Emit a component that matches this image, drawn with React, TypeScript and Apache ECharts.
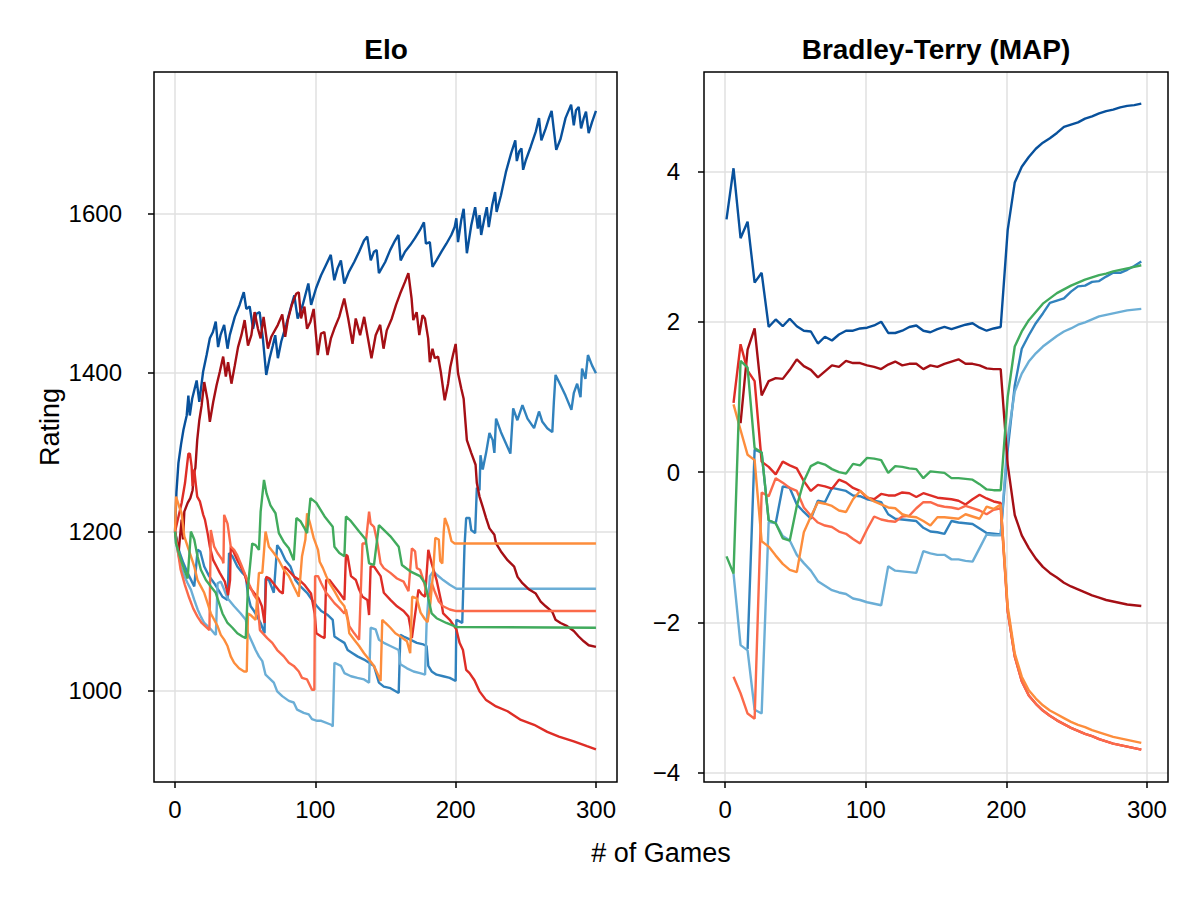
import React, { useEffect, useRef } from "react";
import * as echarts from "echarts";

// ---------------- Elo panel: [game, rating] ----------------
const ELO_DARK_BLUE: number[][] = [
  [0,1200],[1,1250],[2.4,1286],[4.3,1310],[6,1328],[8.3,1346],[9.5,1371],[10.5,1346],[12.2,1367],[15.4,1390],[17.3,1363],[20,1401],[22.5,1422],[24.8,1443],[27,1451],[29,1464],[30.7,1432],[32.4,1447],[35,1460],[37.4,1430],[39,1447],[42.6,1470],[46,1485],[49,1501],[50.8,1480],[53.2,1483],[55.6,1455],[58,1474],[60.3,1476],[62.6,1443],[65,1397],[67.4,1418],[69.7,1434],[71.4,1447],[73.3,1418],[75.7,1439],[79.2,1460],[82.7,1483],[85,1497],[87.4,1468],[91,1485],[95,1512],[97,1485],[100.5,1506],[104,1522],[107.5,1535],[111,1548],[113.5,1516],[115.8,1531],[118.2,1541],[120.6,1512],[124,1527],[127.7,1539],[131.2,1552],[134.7,1566],[137,1571],[139.5,1541],[141.8,1552],[143.7,1554],[145.3,1525],[149.8,1539],[153.3,1554],[156.8,1566],[159.2,1573],[160.8,1541],[163.9,1552],[167.5,1560],[171,1569],[174.5,1579],[177.4,1589],[178.8,1562],[181.6,1564],[183.5,1533],[186.3,1541],[189.9,1552],[193.4,1562],[196.9,1573],[199.3,1583],[200.5,1594],[201.7,1564],[204,1592],[205.7,1606],[208,1550],[211.1,1585],[213.9,1608],[215.8,1581],[217,1598],[218.2,1573],[220.5,1594],[222.2,1608],[223.6,1583],[226,1610],[228.1,1627],[229.2,1602],[232.3,1623],[235.8,1652],[239.4,1675],[242.5,1692],[243.6,1666],[245.3,1678],[246.9,1682],[248.1,1655],[250,1667],[253.5,1684],[257.1,1703],[259.4,1720],[261.1,1692],[264.2,1707],[266.5,1720],[268.4,1729],[270,1705],[271.7,1680],[274.8,1694],[278.3,1720],[282.3,1737],[284.2,1711],[285.8,1730],[287.7,1734],[289.4,1707],[291.3,1720],[292.9,1728],[294.8,1701],[297.2,1715],[300,1729]
];
const ELO_MED_BLUE: number[][] = [
  [0,1200],[3,1175],[6,1160],[9,1148],[12,1137],[13.7,1131],[16.1,1177],[18,1175],[20.8,1156],[24.3,1144],[27.9,1135],[31.4,1125],[33.8,1118],[37.4,1114],[38.5,1173],[40.9,1169],[44.4,1156],[48,1148],[50.4,1144],[52,1120],[53.9,1106],[56.3,1100],[58.6,1093],[61,1085],[63.8,1072],[64.5,1141],[66.9,1139],[70.4,1123],[72.8,1183],[75.2,1177],[78.7,1164],[82.3,1156],[85.8,1139],[89.4,1131],[94.1,1123],[97.6,1114],[101.2,1106],[104.2,1100],[108.9,1095],[112.4,1089],[113.6,1068],[117.1,1064],[120.7,1060],[123,1051],[126.5,1047],[130,1043],[134.7,1039],[138.3,1035],[141.8,1031],[145.3,1010],[148.8,1005],[153.5,1003],[159.4,997],[160.6,1070],[162.9,1068],[167.6,1064],[172.3,1060],[177,1058],[179.3,1056],[180.5,1031],[182.9,1024],[186.4,1020],[191.1,1018],[195.8,1016],[200,1012],[200.5,1089],[202.8,1087],[204.7,1085],[206.3,1181],[207.5,1217],[209.9,1217],[211.1,1202],[213.9,1198],[215.1,1255],[217,1252],[217.7,1296],[219.3,1278],[221.7,1299],[224.1,1324],[226.4,1315],[227.6,1299],[228.8,1342],[232.3,1325],[236,1310],[239,1298],[241,1355],[244,1340],[247.6,1359],[251.2,1342],[255.9,1330],[259.4,1351],[261.8,1338],[265.3,1330],[268.9,1325],[270,1363],[271.2,1397],[274.8,1384],[278.3,1371],[282.5,1353],[284.2,1374],[286.6,1386],[289,1369],[290.1,1405],[292.5,1392],[294.3,1422],[297.2,1409],[300,1399]
];
const ELO_LIGHT_BLUE: number[][] = [
  [0,1200],[0.7,1185],[4.3,1156],[6.6,1144],[9,1135],[11.3,1127],[13.7,1114],[16.1,1102],[18.4,1093],[20.8,1085],[23.2,1081],[25.5,1077],[27.9,1072],[29.1,1070],[30.3,1135],[32.6,1137],[35,1127],[37.4,1116],[42.1,1106],[46.8,1097],[50.4,1089],[52,1072],[55.1,1060],[57.4,1051],[59.8,1043],[62.2,1037],[64.5,1020],[66.9,1016],[70.4,1010],[72.8,999],[76.4,993],[81.1,987],[84.6,985],[87,976],[91.7,972],[95.3,970],[97.6,964],[101.2,962],[104.2,962],[111.3,957],[112.4,955],[113.6,1035],[118.3,1031],[120.7,1022],[125.4,1018],[130,1016],[134.7,1014],[138.3,1010],[139.4,1079],[143,1077],[145.3,1064],[148.8,1060],[153.5,1056],[159.4,1051],[160.6,1033],[165.3,1028],[170,1024],[174.6,1022],[178.2,1020],[179.3,1085],[181.7,1144],[184,1150],[186.4,1146],[191.1,1139],[195.8,1133],[200.5,1128],[300,1128]
];
const ELO_DARK_RED: number[][] = [
  [0,1200],[1.5,1185],[2.6,1175],[4.7,1215],[5.7,1190],[6.6,1225],[9,1236],[10.9,1242],[12.5,1252],[13.7,1275],[14.5,1280],[15.8,1315],[17.3,1340],[18.9,1358],[20.8,1388],[23.2,1365],[24.8,1338],[27.2,1363],[29.6,1384],[31.9,1401],[34.3,1420],[36.2,1395],[37.8,1413],[40.2,1386],[42.6,1409],[44.9,1432],[47.3,1447],[49.6,1466],[52,1434],[54.4,1447],[56.7,1476],[59.1,1455],[61,1443],[63.1,1470],[66.2,1430],[68.6,1445],[73.3,1460],[76.4,1473],[78.5,1445],[80.4,1466],[83.2,1485],[86.3,1499],[88.2,1501],[89.8,1468],[92.2,1483],[94.1,1455],[96.5,1464],[98.8,1480],[101.7,1422],[104,1449],[106.4,1451],[108.7,1422],[111.1,1443],[113.5,1455],[117,1470],[120.6,1493],[123.4,1468],[126.5,1436],[128.8,1468],[131.9,1447],[134.8,1470],[137.1,1447],[140,1418],[143,1447],[146.2,1460],[148.6,1430],[150.9,1453],[154.5,1468],[157.5,1485],[160.4,1499],[163.9,1514],[166.3,1525],[168.6,1493],[169.8,1466],[172.2,1476],[174.1,1447],[176.4,1472],[178.1,1468],[180.4,1443],[181.6,1413],[183.5,1430],[185.1,1418],[187.5,1420],[189.4,1401],[192.2,1365],[194.6,1386],[196.2,1407],[198.1,1422],[200,1436],[201.7,1399],[204,1380],[205.7,1367],[207.1,1335],[208,1315],[211.1,1299],[214.2,1284],[215.1,1261],[217,1244],[219.3,1231],[221.7,1217],[224.1,1204],[227.6,1196],[228.8,1185],[232.3,1175],[237,1164],[241.7,1156],[244.1,1143],[247.6,1135],[252.4,1127],[257.1,1122],[260.6,1112],[264.2,1106],[268.9,1099],[271.2,1089],[274.8,1085],[279.5,1081],[284.2,1075],[287.7,1068],[291.3,1062],[294.8,1057],[300,1055]
];
const ELO_RED: number[][] = [
  [0,1200],[4.7,1236],[7.1,1261],[9.5,1298],[10.6,1298],[11.8,1282],[12.5,1257],[13.7,1278],[14.7,1261],[15.8,1244],[17.7,1238],[20.1,1221],[21.3,1215],[23.2,1198],[24.8,1181],[27.2,1164],[29.6,1156],[31.9,1148],[35.5,1137],[37.8,1120],[39.2,1139],[39.7,1181],[41.6,1175],[44.4,1164],[46.8,1156],[49.2,1148],[51.5,1135],[54.4,1127],[56.7,1122],[59.6,1116],[61.9,1106],[63.8,1085],[65,1143],[67.4,1141],[70.9,1133],[74.5,1125],[76.8,1122],[78,1156],[80.4,1152],[85.1,1143],[88.7,1139],[92.2,1133],[96.9,1122],[99.5,1097],[100.7,1072],[104.2,1068],[106.6,1066],[107.7,1139],[110.1,1139],[113.6,1131],[117.1,1123],[120.7,1114],[121.8,1171],[123,1169],[125.4,1144],[128.9,1139],[131.2,1127],[133.6,1118],[137.1,1114],[138.3,1095],[139.4,1156],[141.8,1156],[146.5,1144],[148.8,1123],[153.5,1114],[158.2,1106],[162.9,1100],[166.4,1093],[167.6,1081],[168.8,1066],[173.5,1127],[175.8,1121],[178.2,1118],[180.5,1177],[182.9,1160],[186.4,1139],[189.9,1110],[191.1,1097],[195.8,1089],[200.5,1077],[202.8,1060],[205.2,1051],[207.5,1026],[209.9,1022],[213.4,1013],[217,999],[221.7,988],[228.8,980],[237,974],[246.5,963],[255.9,957],[265.3,948],[273.6,942],[284.2,936],[293.6,930],[300,926]
];
const ELO_SALMON: number[][] = [
  [0,1200],[2,1175],[4,1152],[7,1133],[10,1117],[13,1103],[16,1093],[19,1085],[22,1080],[24.5,1076],[25.5,1202],[27.9,1181],[30.3,1173],[33.8,1164],[34.5,1160],[35,1221],[37.4,1210],[39.7,1181],[42.1,1177],[44.4,1170],[46.8,1160],[49,1150],[51.5,1139],[53,1133],[56.3,1120],[58.6,1114],[60.5,1076],[65.7,1066],[69.3,1060],[72.8,1051],[77.5,1043],[81.1,1035],[84.6,1031],[88.2,1024],[90.5,1016],[94.1,1014],[97.6,1001],[99.3,1001],[99.8,1144],[101.9,1144],[104.2,1135],[107.7,1123],[110.1,1118],[113.6,1110],[117.1,1104],[120.7,1097],[121.8,1102],[124.2,1081],[127.7,1072],[131.2,1064],[133.6,1185],[135.9,1185],[138.3,1225],[139.4,1210],[141.8,1206],[144.1,1187],[146.5,1160],[148.8,1154],[153.5,1148],[158.2,1141],[162.9,1137],[166.4,1125],[168.8,1179],[171.1,1175],[172.3,1154],[174.6,1152],[177,1139],[179.3,1123],[181.5,1118],[183,1135],[185,1125],[188,1112],[191,1106],[195.8,1102],[200.5,1100],[300,1100]
];
const ELO_ORANGE: number[][] = [
  [0,1200],[0.7,1244],[3,1231],[4.7,1223],[6.6,1194],[9,1181],[11.3,1169],[13.7,1156],[16,1139],[18.4,1131],[20.8,1123],[23.2,1110],[25.5,1097],[27.9,1089],[30.3,1081],[32.6,1070],[35,1064],[37.4,1056],[39.7,1043],[42.1,1035],[45.6,1028],[49.2,1024],[51.1,1024],[52,1097],[53.9,1095],[57.4,1089],[59.8,1148],[62.2,1148],[64.5,1200],[66.9,1181],[70.4,1173],[74,1164],[77.5,1152],[81.1,1144],[84.6,1131],[88.2,1118],[90.5,1169],[92.9,1190],[94.1,1223],[96,1212],[98.8,1192],[101.9,1177],[103.1,1162],[105.4,1154],[107.7,1144],[110.1,1135],[113.6,1125],[117.1,1114],[120.7,1106],[123,1089],[124.2,1072],[127.7,1064],[131.2,1056],[134.7,1047],[138.3,1039],[141.8,1031],[144.1,1022],[146.5,1012],[147.7,1089],[150,1085],[153.5,1079],[157,1072],[160.6,1068],[165.3,1062],[167.6,1047],[169,1118],[172.3,1116],[175,1098],[178,1090],[180,1086],[182,1110],[184,1150],[185.5,1192],[188,1190],[189,1163],[190.5,1160],[191.5,1200],[192.3,1217],[194.6,1206],[197,1188],[199.3,1185],[300,1185]
];
const ELO_GREEN: number[][] = [
  [0,1200],[0.7,1185],[4.3,1164],[6.6,1152],[9,1141],[11.3,1200],[13.7,1190],[16,1169],[18.4,1152],[22,1139],[25.5,1131],[29,1123],[31.4,1110],[33.8,1097],[37.4,1085],[40.9,1079],[44.4,1072],[48,1068],[50.4,1066],[52,1131],[55,1185],[57.4,1183],[59.8,1177],[61,1225],[63.4,1265],[65.2,1248],[68,1233],[71.6,1223],[74,1198],[77.5,1187],[81.1,1179],[84.6,1164],[86.5,1217],[89.4,1213],[91.7,1206],[94.1,1198],[96.5,1242],[100.7,1236],[106.6,1219],[112.4,1206],[113.6,1181],[117.1,1173],[120.7,1169],[121.8,1219],[125.4,1213],[131.2,1200],[135.9,1190],[138.3,1160],[141.8,1158],[145.3,1208],[147.7,1204],[153.5,1194],[159.4,1181],[161.7,1158],[167.6,1150],[174.6,1144],[178.2,1135],[180.5,1116],[182.9,1097],[186.4,1091],[193.4,1085],[200.5,1080],[300,1079]
];

// ---------------- Bradley-Terry (MAP) panel ----------------
const BT_GAMES: number[] = [
  1,6,11,16,21,26,31,36,41,46,51,56,61,66,71,76,81,86,91,96,
  101,106,111,116,121,126,131,136,141,146,151,156,161,166,171,176,181,186,191,196,
  201,206,211,216,221,226,231,236,241,246,251,256,261,266,271,276,281,286,291,296
];
const BT_DARK_BLUE: (number | null)[] = [
  3.36,4.04,3.11,3.33,2.52,2.65,1.93,2.03,1.94,2.04,1.94,1.88,1.87,1.71,1.80,1.75,1.83,1.88,1.88,1.91,
  1.92,1.95,2.00,1.85,1.85,1.88,1.93,1.95,1.88,1.86,1.90,1.93,1.90,1.93,1.96,1.98,1.92,1.88,1.91,1.93,
  3.22,3.85,4.06,4.19,4.30,4.38,4.44,4.51,4.59,4.62,4.65,4.70,4.73,4.77,4.80,4.82,4.85,4.87,4.88,4.90
];
const BT_MED_BLUE: (number | null)[] = [
  null,null,null,-2.35,0.30,0.26,-0.64,-0.68,-0.19,-0.21,-0.43,-0.53,-0.62,-0.38,-0.40,-0.21,-0.23,-0.25,-0.31,-0.32,
  -0.36,-0.38,-0.40,-0.56,-0.62,-0.63,-0.64,-0.65,-0.74,-0.79,-0.80,-0.82,-0.65,-0.67,-0.68,-0.69,-0.75,-0.81,-0.82,-0.83,
  0.30,1.15,1.64,1.82,1.98,2.11,2.25,2.28,2.31,2.40,2.47,2.48,2.53,2.54,2.60,2.65,2.65,2.69,2.74,2.80
];
const BT_LIGHT_BLUE: (number | null)[] = [
  null,-1.35,-2.30,-2.37,-3.16,-3.21,-0.66,-0.68,-0.85,-0.91,-1.10,-1.21,-1.31,-1.45,-1.51,-1.57,-1.60,-1.62,-1.68,-1.70,
  -1.73,-1.75,-1.77,-1.25,-1.31,-1.32,-1.33,-1.34,-1.05,-1.08,-1.10,-1.10,-1.16,-1.16,-1.18,-1.19,-1.01,-0.83,-0.84,-0.84,
  0.45,1.07,1.31,1.47,1.58,1.67,1.74,1.81,1.87,1.91,1.96,1.99,2.03,2.07,2.09,2.11,2.13,2.15,2.16,2.17
];
const BT_DARK_RED: (number | null)[] = [
  null,null,0.65,1.63,1.91,1.02,1.21,1.25,1.24,1.36,1.50,1.41,1.36,1.26,1.34,1.42,1.40,1.48,1.45,1.45,
  1.42,1.40,1.37,1.43,1.47,1.42,1.44,1.44,1.37,1.42,1.40,1.44,1.47,1.50,1.44,1.44,1.42,1.38,1.37,1.37,
  0.10,-0.57,-0.84,-1.01,-1.15,-1.26,-1.34,-1.40,-1.47,-1.52,-1.56,-1.60,-1.64,-1.67,-1.70,-1.72,-1.74,-1.76,-1.77,-1.78
];
const BT_RED: (number | null)[] = [
  null,0.92,1.70,1.35,1.21,0.14,0.07,-0.03,0.14,0.09,0.05,-0.12,-0.25,-0.17,-0.19,-0.22,-0.10,-0.14,-0.21,-0.25,
  -0.34,-0.36,-0.29,-0.31,-0.31,-0.27,-0.28,-0.33,-0.28,-0.31,-0.34,-0.35,-0.36,-0.38,-0.43,-0.36,-0.30,-0.35,-0.39,-0.41,
  -1.85,-2.45,-2.78,-2.97,-3.08,-3.17,-3.24,-3.30,-3.35,-3.40,-3.44,-3.48,-3.51,-3.55,-3.58,-3.61,-3.63,-3.65,-3.67,-3.69
];
const BT_SALMON: (number | null)[] = [
  null,-2.72,-2.94,-3.21,-3.28,-0.27,-0.32,-0.08,-0.14,-0.21,-0.25,-0.47,-0.58,-0.67,-0.71,-0.73,-0.79,-0.82,-0.89,-0.95,
  -0.76,-0.59,-0.63,-0.65,-0.66,-0.59,-0.58,-0.48,-0.40,-0.40,-0.44,-0.46,-0.47,-0.49,-0.45,-0.48,-0.51,-0.56,-0.50,-0.48,
  -1.85,-2.45,-2.78,-2.97,-3.08,-3.17,-3.24,-3.30,-3.35,-3.40,-3.44,-3.48,-3.51,-3.55,-3.58,-3.61,-3.63,-3.65,-3.67,-3.69
];
const BT_ORANGE: (number | null)[] = [
  null,0.90,0.56,0.23,0.16,-0.92,-0.99,-1.11,-1.22,-1.30,-1.33,-0.80,-0.59,-0.40,-0.42,-0.45,-0.51,-0.53,-0.36,-0.25,
  -0.33,-0.39,-0.43,-0.47,-0.48,-0.56,-0.59,-0.60,-0.65,-0.71,-0.60,-0.60,-0.61,-0.62,-0.56,-0.59,-0.62,-0.46,-0.49,-0.43,
  -1.79,-2.41,-2.72,-2.90,-3.01,-3.10,-3.17,-3.22,-3.27,-3.32,-3.36,-3.39,-3.43,-3.46,-3.49,-3.52,-3.54,-3.56,-3.58,-3.60
];
const BT_GREEN: (number | null)[] = [
  -1.12,-1.35,1.48,1.39,0.32,0.26,-0.64,-0.68,-0.88,-0.91,-0.45,-0.12,0.08,0.13,0.10,0.04,0.00,-0.02,0.11,0.09,
  0.19,0.18,0.16,-0.01,0.08,0.07,0.05,0.04,-0.08,0.01,0.00,-0.01,-0.08,-0.08,-0.09,-0.10,-0.16,-0.23,-0.24,-0.24,
  1.00,1.67,1.87,2.02,2.13,2.24,2.31,2.38,2.43,2.48,2.52,2.56,2.59,2.62,2.64,2.67,2.69,2.71,2.73,2.75
];

const X_TICKS = [0, 100, 200, 300];
const ELO_TICKS = [1000, 1200, 1400, 1600];
const BT_TICKS = [-4, -2, 0, 2, 4];

const C_DARK_BLUE = "#08519c";
const C_MED_BLUE = "#3182bd";
const C_LIGHT_BLUE = "#6baed6";
const C_DARK_RED = "#a50f15";
const C_RED = "#de2d26";
const C_SALMON = "#fb6a4a";
const C_ORANGE = "#fd8d3c";
const C_GREEN = "#41ab5d";

const FONT = '"Liberation Sans", "Helvetica", Arial, sans-serif';

function btPairs(ys: (number | null)[]): number[][] {
  const out: number[][] = [];
  BT_GAMES.forEach((x, i) => {
    const v = ys[i];
    if (v !== null && v !== undefined) out.push([x, v]);
  });
  return out;
}

function fmtMinus(v: number): string {
  return v < 0 ? "\u2212" + Math.abs(v) : String(v);
}

export default function App() {
  const ref = useRef<HTMLDivElement>(null);
  useEffect(() => {
    if (!ref.current) return;
    const chart = echarts.init(ref.current, null, { renderer: "svg" });

    const tickStyle = { color: "#000", width: 1.5 };
    const gridLine = { show: true, lineStyle: { color: "#e0e0e0", width: 1.5 } };

    const xAxisBase = (gridIndex: number) => ({
      type: "value",
      gridIndex,
      min: -15,
      max: 315,
      minInterval: 100,
      maxInterval: 100,
      axisLine: { show: false, onZero: false },
      axisTick: { show: true, customValues: X_TICKS, length: 6, inside: false, lineStyle: tickStyle },
      axisLabel: {
        show: true,
        customValues: X_TICKS,
        margin: 15,
        fontSize: 24,
        fontFamily: FONT,
        color: "#000",
        formatter: (v: number) => String(v),
      },
      splitLine: gridLine,
    });

    const lineSeries = (name: string, data: number[][], color: string, idx: number) => ({
      name,
      type: "line",
      xAxisIndex: idx,
      yAxisIndex: idx,
      data,
      showSymbol: false,
      symbol: "none",
      lineStyle: { color, width: 2.4 },
      itemStyle: { color },
      silent: true,
      z: 3,
    });

    const option: any = {
      animation: false,
      backgroundColor: "#ffffff",
      textStyle: { fontFamily: FONT },
      grid: [
        { left: 154, top: 72, width: 463, height: 710, show: true, borderColor: "#000", borderWidth: 1.5, backgroundColor: "transparent", z: 10 },
        { left: 704, top: 72, width: 464, height: 710, show: true, borderColor: "#000", borderWidth: 1.5, backgroundColor: "transparent", z: 10 },
      ],
      xAxis: [xAxisBase(0), xAxisBase(1)],
      yAxis: [
        {
          type: "value",
          gridIndex: 0,
          min: 885,
          max: 1778,
          minInterval: 200,
          maxInterval: 200,
          axisLine: { show: false, onZero: false },
          axisTick: { show: true, customValues: ELO_TICKS, length: 6, lineStyle: tickStyle },
          axisLabel: {
            show: true,
            customValues: ELO_TICKS,
            margin: 32,
            fontSize: 24,
            fontFamily: FONT,
            color: "#000",
            formatter: (v: number) => String(v),
          },
          splitLine: gridLine,
        },
        {
          type: "value",
          gridIndex: 1,
          min: -4.12,
          max: 5.32,
          minInterval: 2,
          maxInterval: 2,
          axisLine: { show: false, onZero: false },
          axisTick: { show: true, customValues: BT_TICKS, length: 6, lineStyle: tickStyle },
          axisLabel: {
            show: true,
            customValues: BT_TICKS,
            margin: 24,
            fontSize: 24,
            fontFamily: FONT,
            color: "#000",
            formatter: (v: number) => fmtMinus(v),
          },
          splitLine: gridLine,
        },
      ],
      series: [
        lineSeries("Elo 1", ELO_DARK_BLUE, C_DARK_BLUE, 0),
        lineSeries("Elo 2", ELO_MED_BLUE, C_MED_BLUE, 0),
        lineSeries("Elo 3", ELO_LIGHT_BLUE, C_LIGHT_BLUE, 0),
        lineSeries("Elo 4", ELO_DARK_RED, C_DARK_RED, 0),
        lineSeries("Elo 5", ELO_RED, C_RED, 0),
        lineSeries("Elo 6", ELO_SALMON, C_SALMON, 0),
        lineSeries("Elo 7", ELO_ORANGE, C_ORANGE, 0),
        lineSeries("Elo 8", ELO_GREEN, C_GREEN, 0),
        lineSeries("BT 1", btPairs(BT_DARK_BLUE), C_DARK_BLUE, 1),
        lineSeries("BT 2", btPairs(BT_MED_BLUE), C_MED_BLUE, 1),
        lineSeries("BT 3", btPairs(BT_LIGHT_BLUE), C_LIGHT_BLUE, 1),
        lineSeries("BT 4", btPairs(BT_DARK_RED), C_DARK_RED, 1),
        lineSeries("BT 5", btPairs(BT_RED), C_RED, 1),
        lineSeries("BT 6", btPairs(BT_SALMON), C_SALMON, 1),
        lineSeries("BT 7", btPairs(BT_ORANGE), C_ORANGE, 1),
        lineSeries("BT 8", btPairs(BT_GREEN), C_GREEN, 1),
      ],
      graphic: [
        {
          type: "text",
          x: 386,
          y: 49,
          silent: true,
          style: { text: "Elo", font: `bold 28px ${FONT}`, fill: "#000", textAlign: "center", textVerticalAlign: "middle" },
        },
        {
          type: "text",
          x: 936,
          y: 49,
          silent: true,
          style: { text: "Bradley-Terry (MAP)", font: `bold 28px ${FONT}`, fill: "#000", textAlign: "center", textVerticalAlign: "middle" },
        },
        {
          type: "text",
          x: 50,
          y: 427,
          rotation: Math.PI / 2,
          silent: true,
          style: { text: "Rating", font: `27px ${FONT}`, fill: "#000", textAlign: "center", textVerticalAlign: "middle" },
        },
        {
          type: "text",
          x: 661,
          y: 853,
          silent: true,
          style: { text: "# of Games", font: `27px ${FONT}`, fill: "#000", textAlign: "center", textVerticalAlign: "middle" },
        },
      ],
    };

    chart.setOption(option);
    return () => {
      chart.dispose();
    };
  }, []);

  return (
    <div
      ref={ref}
      style={{ position: "absolute", left: 0, top: 0, width: 1200, height: 900, background: "#fff" }}
    />
  );
}
